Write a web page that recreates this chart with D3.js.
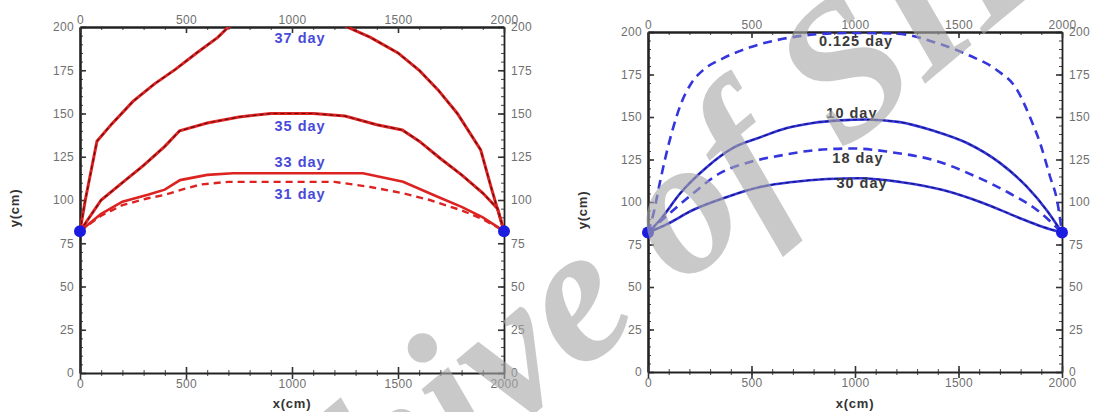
<!DOCTYPE html>
<html>
<head>
<meta charset="utf-8">
<script src="https://cdn.jsdelivr.net/npm/d3@7"></script>
<style>
  html, body { margin: 0; padding: 0; background: #fff; }
  svg { display: block; font-family: "Liberation Sans", Arial, sans-serif; }
</style>
</head>
<body>
<svg id="chart" width="1099" height="412"></svg>
<script>
// tick values shared by both panels
const xMajorTicks = [0, 500, 1000, 1500, 2000];
const yMajorTicks = [0, 25, 50, 75, 100, 125, 150, 175, 200];

// left panel (red) - days 31..37
const day37X = [0, 25, 80, 150, 250, 350, 450, 550, 650, 700, 800, 1000, 1200, 1260, 1370, 1500, 1600, 1690, 1780, 1890, 1940, 2000];
const day37Y = [82, 100, 134, 144, 157, 167, 175.5, 185, 194, 200, 206, 211, 205, 200, 194, 185, 175, 163.5, 150, 129, 107, 82];
const day35X = [0, 100, 200, 300, 400, 470, 600, 750, 900, 1100, 1250, 1400, 1520, 1600, 1700, 1800, 1900, 1970, 2000];
const day35Y = [82, 100, 110, 120, 131, 140, 144.5, 148, 150, 150, 148.5, 143.5, 140.5, 134, 124, 114.5, 104, 95, 82];
const day33X = [0, 100, 200, 320, 400, 472, 600, 722, 1000, 1335, 1524, 1684, 1800, 1900, 2000];
const day33Y = [82, 92, 99, 103, 106, 111.5, 114.5, 115.5, 115.5, 115.5, 110.5, 102, 96, 90, 82];
const day31X = [0, 100, 200, 320, 400, 480, 570, 700, 1200, 1370, 1520, 1650, 1800, 1900, 2000];
const day31Y = [82, 91, 97, 101, 103, 106, 109, 110.5, 110.5, 107.5, 104, 100, 94, 89, 82];

// right panel (blue)
const day0125X = [0, 30, 55, 82, 120, 160, 210, 270, 362, 493, 652, 800, 990, 1203, 1396, 1556, 1686, 1783, 1845, 1894, 1942, 1976, 2000];
const day0125Y = [82, 95, 110, 125, 143, 158, 170, 178, 184.5, 191, 196, 198.5, 199.5, 199, 193.5, 186, 177.5, 166, 150, 134.7, 115, 101, 82];
const day10X = [0, 58, 155, 285, 411, 541, 671, 797, 928, 1050, 1217, 1377, 1541, 1700, 1830, 1927, 2000];
const day10Y = [82, 89.4, 105, 120.6, 131.8, 138, 143.5, 146.5, 148, 148.5, 147, 142, 134.7, 123, 109, 95, 82];
const day18X = [0, 106, 217, 348, 493, 652, 816, 990, 1169, 1377, 1589, 1749, 1879, 2000];
const day18Y = [82, 93.5, 105, 117, 123.5, 127.6, 130.6, 131.5, 129.4, 124.7, 114.7, 105, 95.3, 82];
const day30X = [0, 92, 217, 382, 541, 700, 865, 1024, 1217, 1425, 1618, 1783, 1908, 2000];
const day30Y = [82, 87, 95.3, 103, 108.8, 111.8, 113.5, 114, 111.8, 107, 99.4, 91.2, 85.3, 82];

// fixed end points (blue dots)
const endX = [0, 2000];
const endY = [82, 82];

// curve labels: text, x, y (data units)
const leftLabels = ["37 day", "35 day", "33 day", "31 day"];
const leftLabelX = [1038, 1038, 1038, 1038];
const leftLabelY = [191, 139.9, 118.8, 100.3];
const rightLabels = ["0.125 day", "10 day", "18 day", "30 day"];
const rightLabelX = [1005, 985, 1014, 1034];
const rightLabelY = [192, 149.5, 122.8, 108];

const svg = d3.select("#chart");

function zip(xs, ys) { return xs.map((x, i) => ({ x: x, y: ys[i] })); }

function drawPanel(opt) {
  const x = d3.scaleLinear().domain([0, 2000]).range([opt.x0, opt.x1]);
  const y = d3.scaleLinear().domain([0, 200]).range([opt.y0, opt.y1]);
  const g = svg.append("g");
  const minorX = d3.range(0, 2001, 100);
  const minorY = d3.range(0, 201, 5);
  const fmt = d3.format("d");

  // clip for curves
  const clipId = "clip" + opt.id;
  svg.append("clipPath").attr("id", clipId).append("rect")
    .attr("x", opt.x0).attr("y", opt.y1)
    .attr("width", opt.x1 - opt.x0).attr("height", opt.y0 - opt.y1);

  function styleAxis(a, w) {
    a.select(".domain").attr("stroke", "#222").attr("stroke-width", w);
    a.selectAll(".tick line").attr("stroke", "#333").attr("stroke-width", 1.6);
    a.selectAll(".tick text").attr("fill", "#707070").attr("font-size", 12)
      .attr("letter-spacing", 0.3);
  }

  // minor ticks
  g.append("g").attr("transform", `translate(${opt.x0},0)`)
    .call(d3.axisLeft(y).tickValues(minorY).tickSizeInner(-3).tickSizeOuter(0).tickFormat(""))
    .call(a => { a.select(".domain").remove(); a.selectAll("line").attr("stroke", "#444"); });
  g.append("g").attr("transform", `translate(${opt.x1},0)`)
    .call(d3.axisRight(y).tickValues(minorY).tickSizeInner(-3).tickSizeOuter(0).tickFormat(""))
    .call(a => { a.select(".domain").remove(); a.selectAll("line").attr("stroke", "#444"); });
  g.append("g").attr("transform", `translate(0,${opt.y1})`)
    .call(d3.axisTop(x).tickValues(minorX).tickSizeInner(-3).tickSizeOuter(0).tickFormat(""))
    .call(a => { a.select(".domain").remove(); a.selectAll("line").attr("stroke", "#444"); });
  g.append("g").attr("transform", `translate(0,${opt.y0})`)
    .call(d3.axisBottom(x).tickValues(minorX).tickSizeInner(3).tickSizeOuter(0).tickFormat(""))
    .call(a => { a.select(".domain").remove(); a.selectAll("line").attr("stroke", "#444").attr("y1", -3); });

  // major axes
  g.append("g").attr("transform", `translate(${opt.x0},0)`)
    .call(d3.axisLeft(y).tickValues(yMajorTicks).tickFormat(fmt).tickSizeInner(-6).tickSizeOuter(0).tickPadding(6))
    .call(a => styleAxis(a, 2.6));
  g.append("g").attr("transform", `translate(${opt.x1},0)`)
    .call(d3.axisRight(y).tickValues(yMajorTicks).tickFormat(fmt).tickSizeInner(-6).tickSizeOuter(0).tickPadding(7))
    .call(a => styleAxis(a, 1.8));
  g.append("g").attr("transform", `translate(0,${opt.y1})`)
    .call(d3.axisTop(x).tickValues(xMajorTicks).tickFormat(fmt).tickSizeInner(-6).tickSizeOuter(0).tickPadding(3))
    .call(a => styleAxis(a, 2.6));
  g.append("g").attr("transform", `translate(0,${opt.y0})`)
    .call(d3.axisBottom(x).tickValues(xMajorTicks).tickFormat(fmt).tickSizeInner(6).tickSizeOuter(0).tickPadding(0))
    .call(a => { styleAxis(a, 2.2); a.selectAll(".tick line").attr("y1", -6); });

  // axis titles
  svg.append("text")
    .attr("transform", `translate(${opt.x0 - 61},${(opt.y0 + opt.y1) / 2 + 8}) rotate(-90)`)
    .attr("text-anchor", "middle").attr("font-size", 13).attr("font-weight", "bold")
    .attr("letter-spacing", 0.8).attr("fill", "#333").text("y(cm)");
  svg.append("text")
    .attr("x", (opt.x0 + opt.x1) / 2).attr("y", 408)
    .attr("text-anchor", "middle").attr("font-size", 13).attr("font-weight", "bold")
    .attr("letter-spacing", 0.8).attr("fill", "#333").text("x(cm)");

  const line = d3.line().x(d => x(d.x)).y(d => y(d.y)).curve(opt.curve);
  const cg = svg.append("g").attr("clip-path", `url(#${clipId})`);

  opt.series.forEach(s => {
    const data = zip(s.xs, s.ys);
    cg.append("path").datum(data)
      .attr("fill", "none").attr("stroke", s.color).attr("stroke-width", s.width)
      .attr("stroke-dasharray", s.dash || null).attr("d", line);
    if (s.overlay) {
      cg.append("path").datum(data)
        .attr("fill", "none").attr("stroke", s.overlay).attr("stroke-width", 1.2)
        .attr("stroke-dasharray", "4,3").attr("d", line);
    }
  });

  svg.append("g").selectAll("circle").data(zip(endX, endY)).join("circle")
    .attr("cx", d => x(d.x)).attr("cy", d => y(d.y)).attr("r", 6)
    .attr("fill", "#1c1ce0");

  svg.append("g").selectAll("text").data(opt.labels).join("text")
    .attr("x", d => x(d.x)).attr("y", d => y(d.y))
    .attr("text-anchor", "middle").attr("font-size", 14.5).attr("font-weight", "bold")
    .attr("letter-spacing", 1).attr("fill", opt.labelColor).text(d => d.t);
}

drawPanel({
  id: "L", x0: 80, x1: 504, y0: 373, y1: 27, curve: d3.curveLinear, labelColor: "#4a4ad8",
  series: [
    { xs: day37X, ys: day37Y, color: "#dd2222", width: 3, overlay: "#6a0a0a" },
    { xs: day35X, ys: day35Y, color: "#dd2222", width: 3, overlay: "#6a0a0a" },
    { xs: day33X, ys: day33Y, color: "#dd2222", width: 2.6 },
    { xs: day31X, ys: day31Y, color: "#dd2222", width: 2.4, dash: "7,5" }
  ],
  labels: leftLabels.map((t, i) => ({ t: t, x: leftLabelX[i], y: leftLabelY[i] }))
});

drawPanel({
  id: "R", x0: 648, x1: 1062, y0: 372, y1: 32, curve: d3.curveMonotoneX, labelColor: "#3a3a3a",
  series: [
    { xs: day0125X, ys: day0125Y, color: "#3535dd", width: 2.6, dash: "9,6" },
    { xs: day10X, ys: day10Y, color: "#3535dd", width: 2.6, overlay: "#15157a" },
    { xs: day18X, ys: day18Y, color: "#3535dd", width: 2.6, dash: "9,6" },
    { xs: day30X, ys: day30Y, color: "#3535dd", width: 2.6, overlay: "#15157a" }
  ],
  labels: rightLabels.map((t, i) => ({ t: t, x: rightLabelX[i], y: rightLabelY[i] }))
});

// watermark over the charts
svg.append("text")
  .attr("transform", "translate(163,723) rotate(-40)")
  .attr("font-family", "Liberation Serif, serif").attr("font-style", "italic")
  .attr("font-weight", "bold").attr("font-size", 195)
  .attr("fill", "#a8a8a8").attr("fill-opacity", 0.62)
  .text("Archive of SID");
</script>
</body>
</html>
